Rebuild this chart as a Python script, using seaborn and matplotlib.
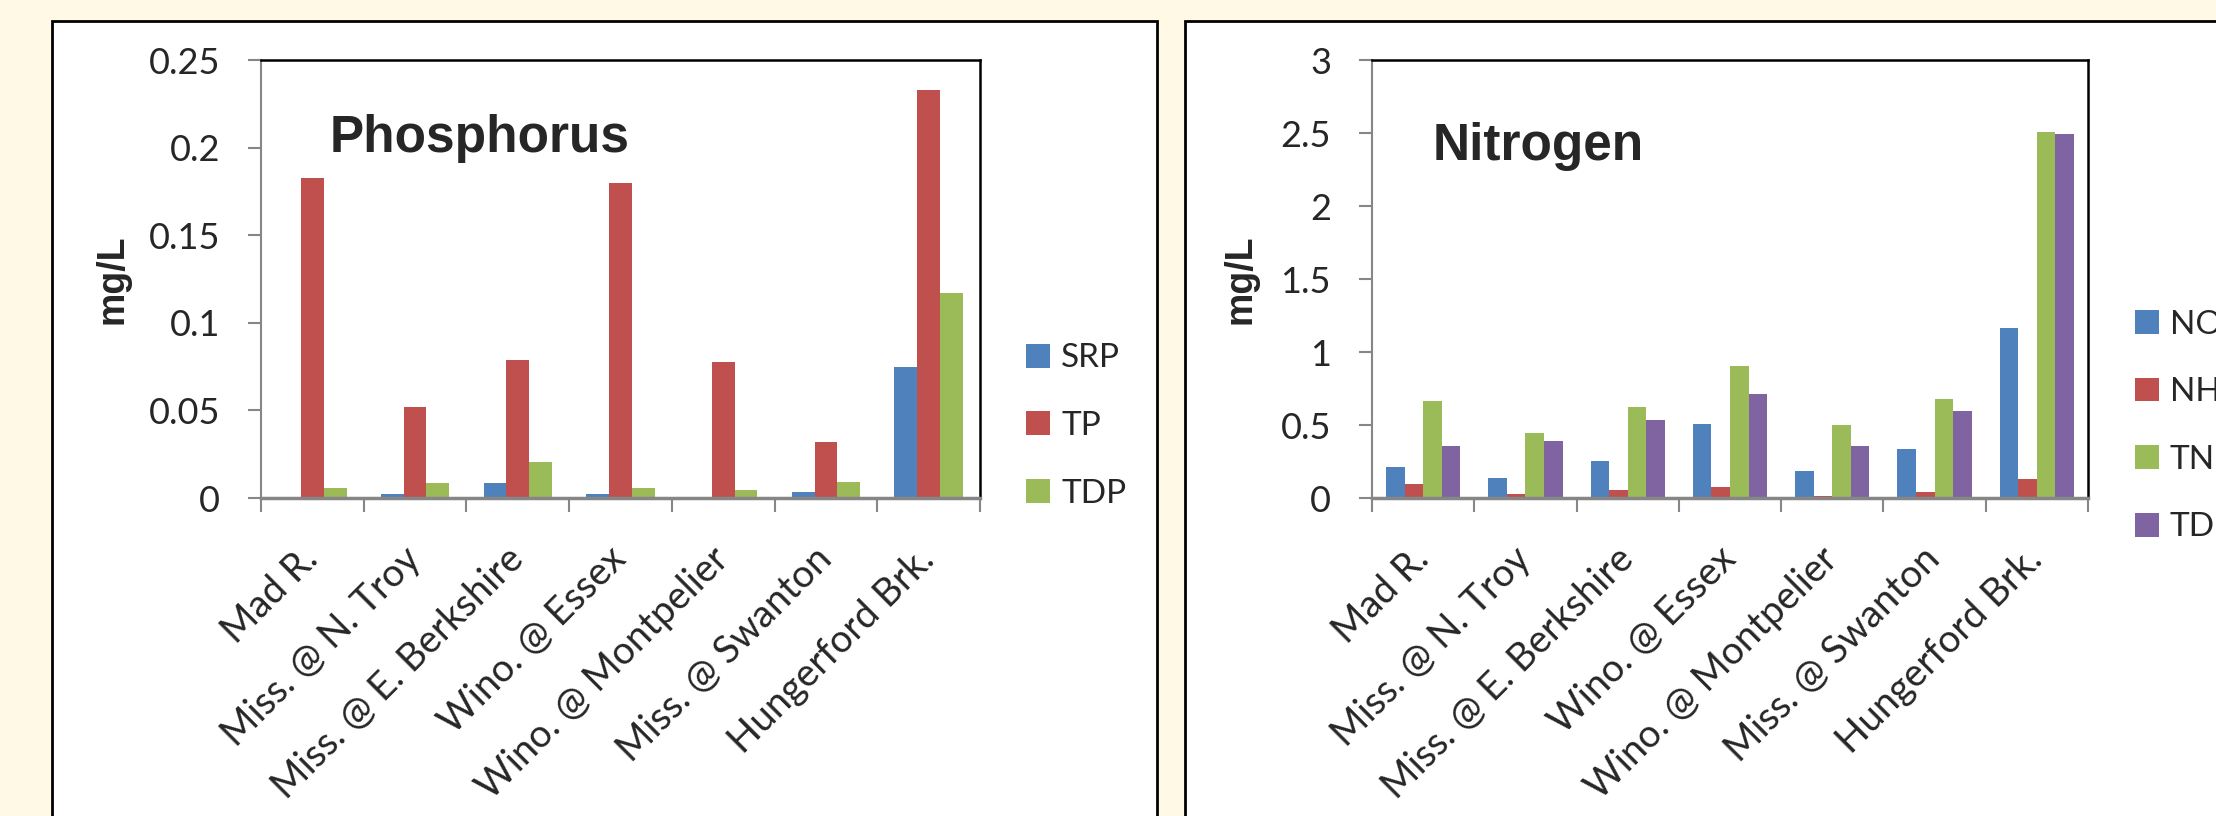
import numpy as np
import pandas as pd
import matplotlib
matplotlib.use("Agg")
import matplotlib.pyplot as plt
import seaborn as sns
from matplotlib.patches import Rectangle
from matplotlib.ticker import FuncFormatter

# Sites along the x axis
sites = ["Mad R.", "Miss. @ N. Troy", "Miss. @ E. Berkshire", "Wino. @ Essex",
         "Wino. @ Montpelier", "Miss. @ Swanton", "Hungerford Brk."]

# Phosphorus (mg/L)
srp = [0.0, 0.002, 0.0083, 0.002, 0.0, 0.0034, 0.075]
tp = [0.1826, 0.052, 0.0788, 0.180, 0.0776, 0.032, 0.233]
tdp = [0.0057, 0.0086, 0.0205, 0.0057, 0.0046, 0.0091, 0.117]

# Nitrogen (mg/L)
no3 = [0.212, 0.137, 0.251, 0.507, 0.187, 0.333, 1.166]
nh4 = [0.096, 0.027, 0.055, 0.073, 0.016, 0.043, 0.13]
tn = [0.664, 0.447, 0.621, 0.904, 0.50, 0.68, 2.51]
tdn = [0.356, 0.39, 0.534, 0.712, 0.354, 0.594, 2.49]

p_names = ["SRP", "TP", "TDP"]
n_names = ["NO3", "NH4", "TN", "TDN"]
colors = ["#4F81BD", "#C0504D", "#9BBB59", "#8064A2"]

p_df = pd.DataFrame({"site": sites, "SRP": srp, "TP": tp, "TDP": tdp})
p_df = p_df.melt(id_vars="site", var_name="param", value_name="mgL")
n_df = pd.DataFrame({"site": sites, "NO3": no3, "NH4": nh4, "TN": tn, "TDN": tdn})
n_df = n_df.melt(id_vars="site", var_name="param", value_name="mgL")

sns.set_style("white")
plt.rcParams["font.family"] = ["Lato", "DejaVu Sans"]

W, H = 2216, 816
bg = "#FFF9E5"
grey = "#868686"
fig = plt.figure(figsize=(W / 100, H / 100), dpi=100, facecolor=bg)

# white panel boxes (behind the axes)
for x0, x1 in [(52, 1157), (1185, 2300)]:
    fig.patches.append(Rectangle((x0 / W, -0.1), (x1 - x0) / W, 1.1 - 21 / H,
                                 transform=fig.transFigure, facecolor="white",
                                 edgecolor="black", linewidth=2, zorder=-5))


def px_ax(left, right, top, bottom):
    return fig.add_axes([left / W, 1 - bottom / H, (right - left) / W, (bottom - top) / H])


ax1 = px_ax(261, 980, 60, 498)
ax2 = px_ax(1372, 2088, 60, 498)

sns.barplot(data=p_df, x="site", y="mgL", hue="param", palette=colors[:3],
            width=3 / 4.5, ax=ax1, saturation=1, linewidth=0)
sns.barplot(data=n_df, x="site", y="mgL", hue="param", palette=colors,
            width=4 / 5.5, ax=ax2, saturation=1, linewidth=0)

fmt = FuncFormatter(lambda v, pos: f"{v:g}")
for ax, top, step, lab_x in [(ax1, 0.25, 0.05, -0.182), (ax2, 3.0, 0.5, -0.158)]:
    ax.set_facecolor("white")
    ax.set_ylim(0, top)
    ax.set_xlim(-0.5, 6.5)
    ax.set_yticks(np.arange(0, top + step / 2, step))
    ax.yaxis.set_major_formatter(fmt)
    ax.tick_params(axis="y", direction="out", length=9.5, width=1.5, color=grey,
                   pad=20, labelsize=26, left=True)
    ax.set_xticks(np.arange(-0.5, 7, 1), minor=True)
    ax.tick_params(axis="x", which="minor", direction="out", length=10, width=1.5,
                   color=grey, bottom=True)
    ax.tick_params(axis="x", which="major", length=0, pad=40, labelsize=27.5)
    for lab in ax.get_xticklabels():
        lab.set_rotation(45)
        lab.set_ha("right")
        lab.set_va("center")
        lab.set_rotation_mode("anchor")
    ax.set_xlabel("")
    ax.set_ylabel("mg/L", fontsize=27, fontweight="bold",
                  family=["Liberation Sans", "DejaVu Sans"])
    ax.yaxis.set_label_coords(lab_x, 0.5)
    for side in ["top", "right"]:
        ax.spines[side].set_visible(True)
        ax.spines[side].set_color("black")
        ax.spines[side].set_linewidth(1.8)
    ax.spines["left"].set_color(grey)
    ax.spines["left"].set_linewidth(1.5)
    ax.spines["bottom"].set_color(grey)
    ax.spines["bottom"].set_linewidth(2.5)

ax1.text(0.096, 0.79, "Phosphorus", transform=ax1.transAxes, fontsize=37,
         fontweight="bold", family=["Liberation Sans", "DejaVu Sans"], va="baseline")
ax2.text(0.084, 0.772, "Nitrogen", transform=ax2.transAxes, fontsize=37,
         fontweight="bold", family=["Liberation Sans", "DejaVu Sans"], va="baseline")

for ax, names, x0, yc in [(ax1, p_names, 1026, 426), (ax2, n_names, 2135, 426)]:
    handles, labels = ax.get_legend_handles_labels()
    ax.legend(handles, names, loc="center left", bbox_to_anchor=(x0 / W, 1 - yc / H),
              bbox_transform=fig.transFigure, frameon=False, fontsize=24,
              handlelength=0.72, handleheight=0.72, handletextpad=0.33,
              labelspacing=1.13, borderpad=0, borderaxespad=0)

fig.savefig("out.png", dpi=100, facecolor=bg)
